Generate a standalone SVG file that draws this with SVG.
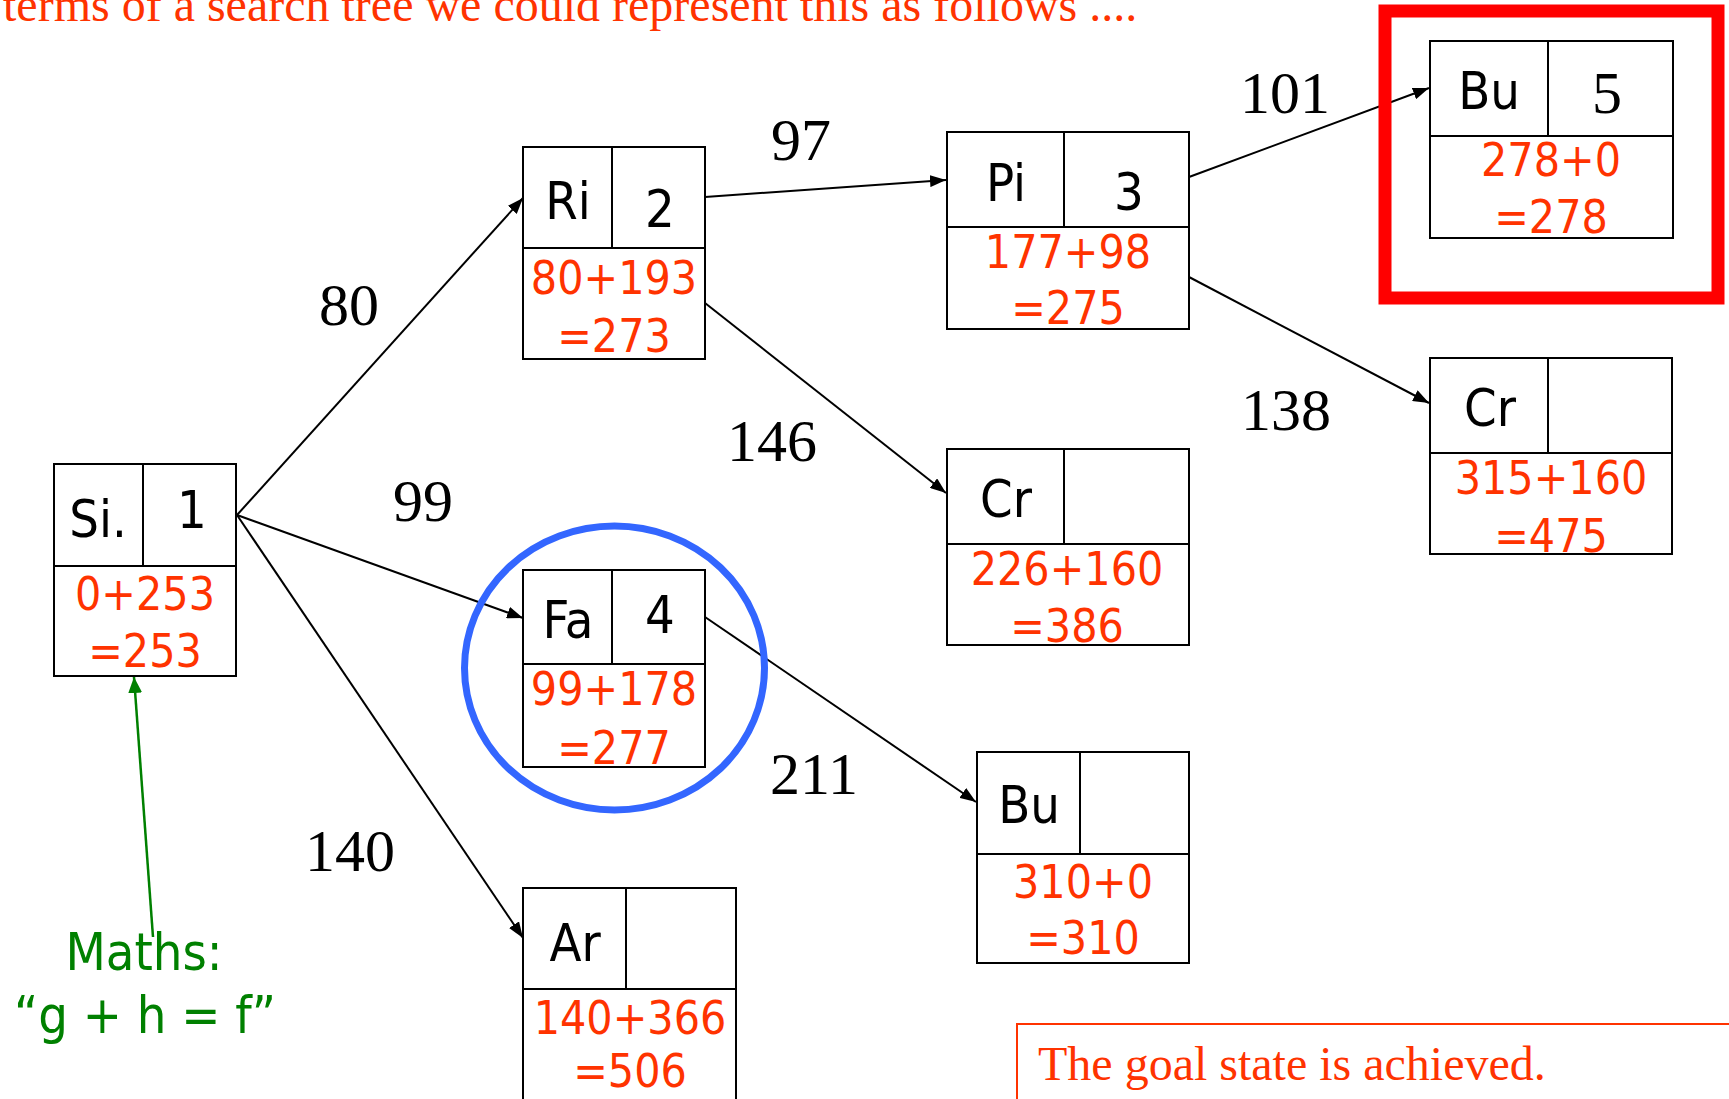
<svg xmlns="http://www.w3.org/2000/svg" width="1729" height="1099" viewBox="0 0 1729 1099">
<style>
.box{fill:#fff;stroke:#000;stroke-width:2}
.div{stroke:#000;stroke-width:2}
.lbl{font-family:"DejaVu Sans Condensed","DejaVu Sans",sans-serif;font-stretch:condensed;font-size:52px;fill:#000;text-anchor:middle}
.val{font-family:"DejaVu Sans Condensed","DejaVu Sans",sans-serif;font-stretch:condensed;font-size:46px;fill:#ff3300;text-anchor:middle}
.cost{font-family:"Liberation Serif","Times New Roman",serif;font-size:60px;fill:#000;text-anchor:middle}
.edge{stroke:#000;stroke-width:2;fill:none;marker-end:url(#arr)}
.note{font-family:"Liberation Serif","Times New Roman",serif;font-size:48px;fill:#ff3300}
.green{font-family:"DejaVu Sans Condensed","DejaVu Sans",sans-serif;font-stretch:condensed;font-size:52px;fill:#008000;text-anchor:middle}
</style>
<defs>
<marker id="arr" viewBox="0 0 16 12" refX="16" refY="6" markerWidth="16" markerHeight="12" markerUnits="userSpaceOnUse" orient="auto"><path d="M0,0 L16,6 L0,12 z" fill="#000"/></marker>
<marker id="garr" viewBox="0 0 16 14" refX="16" refY="7" markerWidth="16" markerHeight="14" markerUnits="userSpaceOnUse" orient="auto"><path d="M0,0 L16,7 L0,14 z" fill="#008000"/></marker>
</defs>
<rect width="1729" height="1099" fill="#fff"/>
<text class="note" x="3" y="21">terms of a search tree we could represent this as follows ....</text>

<g id="connectors">
<line class="edge" x1="237" y1="515" x2="523" y2="198"/>
<line class="edge" x1="237" y1="515" x2="523" y2="618"/>
<line class="edge" x1="237" y1="515" x2="523" y2="938"/>
<line class="edge" x1="705" y1="197" x2="946" y2="180"/>
<line class="edge" x1="705" y1="303" x2="946" y2="493"/>
<line class="edge" x1="1189" y1="177" x2="1429" y2="88"/>
<line class="edge" x1="1189" y1="277" x2="1429" y2="403"/>
<line class="edge" x1="705" y1="617" x2="976" y2="802"/>
<line x1="153" y1="937" x2="134" y2="677" stroke="#008000" stroke-width="2.5" marker-end="url(#garr)"/>
</g>

<g id="edge-labels">
<text class="cost" x="349" y="325">80</text>
<text class="cost" x="801" y="160">97</text>
<text class="cost" x="1285" y="113">101</text>
<text class="cost" x="772" y="461">146</text>
<text class="cost" x="1286" y="430">138</text>
<text class="cost" x="423" y="521">99</text>
<text class="cost" x="814" y="794">211</text>
<text class="cost" x="350" y="871">140</text>
</g>

<g id="node-si">
<rect class="box" x="54" y="464" width="182" height="212"/>
<line class="div" x1="143" y1="464" x2="143" y2="566"/>
<line class="div" x1="54" y1="566" x2="236" y2="566"/>
<text class="lbl" x="98" y="537">Si.</text>
<text class="lbl" x="192" y="528">1</text>
<text class="val" x="145" y="610">0+253</text>
<text class="val" x="145" y="667">=253</text>
</g>

<g id="node-ri">
<rect class="box" x="523" y="147" width="182" height="212"/>
<line class="div" x1="612" y1="147" x2="612" y2="248"/>
<line class="div" x1="523" y1="248" x2="705" y2="248"/>
<text class="lbl" x="568" y="219">Ri</text>
<text class="lbl" x="660" y="227">2</text>
<text class="val" x="614" y="294">80+193</text>
<text class="val" x="614" y="352">=273</text>
</g>

<g id="node-pi">
<rect class="box" x="947" y="132" width="242" height="197"/>
<line class="div" x1="1064" y1="132" x2="1064" y2="227"/>
<line class="div" x1="947" y1="227" x2="1189" y2="227"/>
<text class="lbl" x="1006" y="201">Pi</text>
<text class="lbl" x="1129" y="210">3</text>
<text class="val" x="1068" y="268">177+98</text>
<text class="val" x="1068" y="324">=275</text>
</g>

<g id="node-bu-goal">
<rect x="1385" y="11" width="333" height="287" fill="none" stroke="#ff0000" stroke-width="13"/>
<rect class="box" x="1430" y="41" width="243" height="197"/>
<line class="div" x1="1548" y1="41" x2="1548" y2="136"/>
<line class="div" x1="1430" y1="136" x2="1673" y2="136"/>
<text class="lbl" x="1489" y="109">Bu</text>
<text class="cost" x="1607" y="113">5</text>
<text class="val" x="1551" y="176">278+0</text>
<text class="val" x="1551" y="233">=278</text>
</g>

<g id="node-cr-2">
<rect class="box" x="1430" y="358" width="242" height="196"/>
<line class="div" x1="1548" y1="358" x2="1548" y2="453"/>
<line class="div" x1="1430" y1="453" x2="1672" y2="453"/>
<text class="lbl" x="1490" y="426">Cr</text>
<text class="val" x="1551" y="494">315+160</text>
<text class="val" x="1551" y="552">=475</text>
</g>

<g id="node-cr-1">
<rect class="box" x="947" y="449" width="242" height="196"/>
<line class="div" x1="1064" y1="449" x2="1064" y2="544"/>
<line class="div" x1="947" y1="544" x2="1189" y2="544"/>
<text class="lbl" x="1006" y="517">Cr</text>
<text class="val" x="1067" y="585">226+160</text>
<text class="val" x="1067" y="642">=386</text>
</g>

<g id="node-fa">
<rect class="box" x="523" y="570" width="182" height="197"/>
<line class="div" x1="612" y1="570" x2="612" y2="664"/>
<line class="div" x1="523" y1="664" x2="705" y2="664"/>
<text class="lbl" x="568" y="638">Fa</text>
<text class="lbl" x="660" y="633">4</text>
<text class="val" x="614" y="705">99+178</text>
<text class="val" x="614" y="764">=277</text>
<ellipse cx="614.5" cy="668" rx="150" ry="142" fill="none" stroke="#3366ff" stroke-width="7"/>
</g>

<g id="node-bu">
<rect class="box" x="977" y="752" width="212" height="211"/>
<line class="div" x1="1080" y1="752" x2="1080" y2="854"/>
<line class="div" x1="977" y1="854" x2="1189" y2="854"/>
<text class="lbl" x="1029" y="823">Bu</text>
<text class="val" x="1083" y="898">310+0</text>
<text class="val" x="1083" y="954">=310</text>
</g>

<g id="node-ar">
<rect class="box" x="523" y="888" width="213" height="230"/>
<line class="div" x1="626" y1="888" x2="626" y2="989"/>
<line class="div" x1="523" y1="989" x2="736" y2="989"/>
<text class="lbl" x="575" y="961">Ar</text>
<text class="val" x="630" y="1034">140+366</text>
<text class="val" x="630" y="1087">=506</text>
</g>

<g id="maths-note">
<text class="green" x="144" y="970">Maths:</text>
<text class="green" x="145" y="1033">“g + h = f”</text>
</g>

<g id="goal-note">
<rect x="1017" y="1024" width="800" height="200" fill="none" stroke="#ff3300" stroke-width="2"/>
<text class="note" x="1038" y="1080">The goal state is achieved.</text>
</g>
</svg>
